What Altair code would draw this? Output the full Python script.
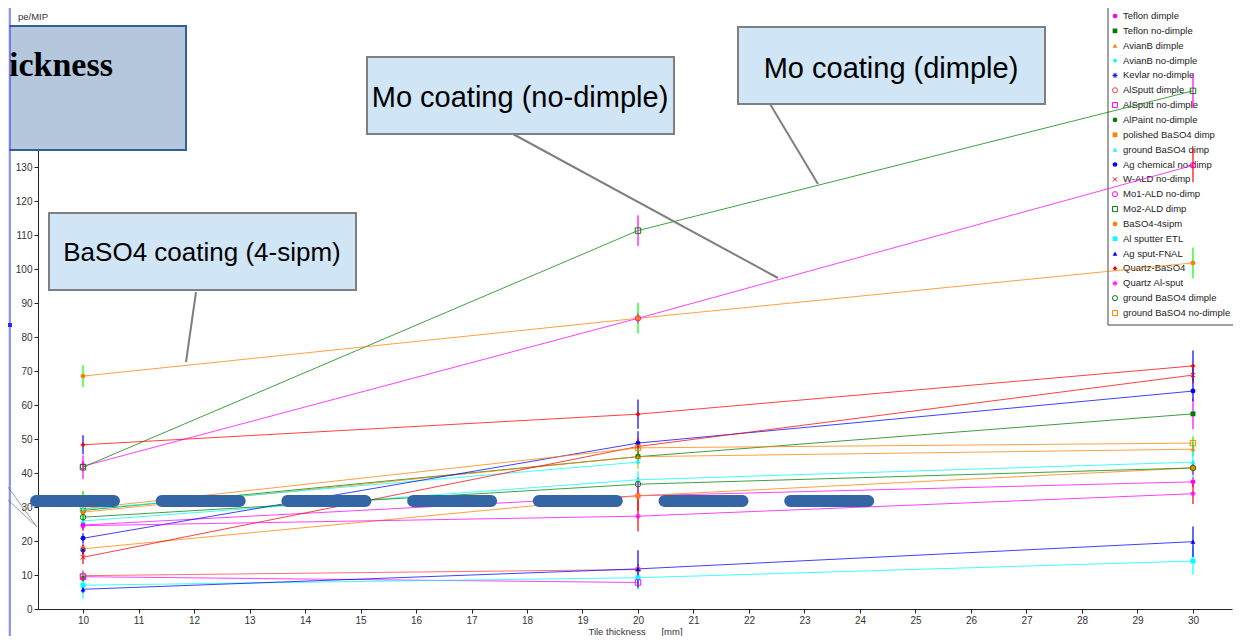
import altair as alt
import pandas as pd

# ---------------- data ----------------
x_vals = [10, 20, 30]

series_names = [
    "Teflon dimple", "Teflon no-dimple", "AvianB dimple", "AvianB no-dimple",
    "Kevlar no-dimple", "AlSputt dimple", "AlSputt no-dimple", "AlPaint no-dimple",
    "polished BaSO4 dimp", "ground BaSO4 dimp", "Ag chemical no-dimp", "W-ALD no-dimp",
    "Mo1-ALD no-dimp", "Mo2-ALD dimp", "BaSO4-4sipm", "Al sputter ETL",
    "Ag sput-FNAL", "Quartz-BaSO4", "Quartz Al-sput", "ground BaSO4 dimple",
    "ground BaSO4 no-dimple",
]

# values at tile thickness 10, 20, 30 mm (None = not measured)
teflon_dimple = [24.7, 33.3, 37.4]
teflon_nodimple = [29.0, 44.8, 57.4]
avianb_dimple = [28.5, 44.8, 47.0]
avianb_nodimple = [29.3, 43.2, None]
kevlar_nodimple = [17.3, None, None]
alsputt_dimple = [9.8, 11.6, None]
alsputt_nodimple = [9.5, 7.8, None]
alpaint_nodimple = [9.0, None, None]
polished_baso4 = [17.7, 33.3, 41.5]
ground_baso4_dimp = [25.9, 38.0, 43.2]
ag_chemical = [20.8, 48.8, 64.1]
w_ald = [15.2, 47.8, 68.8]
mo1_ald = [42.0, 85.5, 130.5]
mo2_ald = [41.7, 111.3, 152.4]
baso4_4sipm = [68.5, 85.5, 101.8]
al_sputter_etl = [7.0, 9.2, 14.1]
ag_sput_fnal = [5.8, 11.8, 19.8]
quartz_baso4 = [48.3, 57.3, 71.5]
quartz_alsput = [24.5, 27.3, 33.9]
ground_baso4_dimple = [27.0, 36.7, 41.5]
ground_baso4_nodimple = [29.5, 47.4, 48.8]

# error half-widths
err_teflon_dimple = [1.2, 1.5, 1.5]
err_teflon_nodimple = [1.5, 1.5, 4.5]
err_avianb_dimple = [1.5, 2.0, 2.0]
err_avianb_nodimple = [5.5, 2.0, None]
err_kevlar_nodimple = [1.5, None, None]
err_alsputt_dimple = [1.5, 1.5, None]
err_alsputt_nodimple = [1.5, 2.0, None]
err_alpaint_nodimple = [1.0, None, None]
err_polished_baso4 = [1.5, 4.5, 2.0]
err_ground_baso4_dimp = [1.5, 2.5, 4.5]
err_ag_chemical = [1.5, 3.5, 3.0]
err_w_ald = [2.0, 2.5, 2.5]
err_mo1_ald = [1.5, 1.5, 5.0]
err_mo2_ald = [3.5, 4.5, 5.0]
err_baso4_4sipm = [3.2, 4.5, 4.5]
err_al_sputter_etl = [4.0, 3.5, 4.0]
err_ag_sput_fnal = [1.0, 5.5, 4.5]
err_quartz_baso4 = [2.8, 4.3, 4.5]
err_quartz_alsput = [1.5, 4.5, 3.0]
err_ground_baso4_dimple = [1.5, 2.0, 2.0]
err_ground_baso4_nodimple = [5.0, 2.0, 2.0]

series_values = [
    teflon_dimple, teflon_nodimple, avianb_dimple, avianb_nodimple, kevlar_nodimple,
    alsputt_dimple, alsputt_nodimple, alpaint_nodimple, polished_baso4, ground_baso4_dimp,
    ag_chemical, w_ald, mo1_ald, mo2_ald, baso4_4sipm, al_sputter_etl, ag_sput_fnal,
    quartz_baso4, quartz_alsput, ground_baso4_dimple, ground_baso4_nodimple,
]
series_errors = [
    err_teflon_dimple, err_teflon_nodimple, err_avianb_dimple, err_avianb_nodimple,
    err_kevlar_nodimple, err_alsputt_dimple, err_alsputt_nodimple, err_alpaint_nodimple,
    err_polished_baso4, err_ground_baso4_dimp, err_ag_chemical, err_w_ald, err_mo1_ald,
    err_mo2_ald, err_baso4_4sipm, err_al_sputter_etl, err_ag_sput_fnal, err_quartz_baso4,
    err_quartz_alsput, err_ground_baso4_dimple, err_ground_baso4_nodimple,
]

ASTER = "M-1,0L1,0M0,-1L0,1M-0.7,-0.7L0.7,0.7M-0.7,0.7L0.7,-0.7"
XMARK = "M-0.8,-0.8L0.8,0.8M-0.8,0.8L0.8,-0.8"

series_colors = [
    "#ff00ff", "#007a00", "#ff8000", "#00ffff", "#0000ff", "#ff4040", "#ff00ff",
    "#007a00", "#ff8000", "#00ffff", "#0000ff", "#ff0000", "#ff00ff", "#008000",
    "#ff8000", "#00ffff", "#0000ff", "#ff0000", "#ff00ff", "#008000", "#ff8000",
]
series_shapes = [
    "circle", "square", "triangle-up", "diamond", ASTER, "circle", "square",
    "circle", "square", "triangle-up", "circle", XMARK, "circle", "square",
    "circle", "square", "triangle-up", "diamond", ASTER, "circle", "square",
]
series_filled = [
    True, True, True, True, False, False, False, True, True, True, True, False,
    False, False, True, True, True, True, False, False, False,
]
error_colors = [
    "#ff00ff", "#ff00ff", "#00ff00", "#c8c800", "#0000ff", "#ff0000", "#ffc000",
    "#008000", "#ff0000", "#00ffff", "#0000ff", "#ff0000", "#ff0000", "#ff00ff",
    "#00ff00", "#00ffff", "#0000ff", "#0000ff", "#ff0000", "#ff00ff", "#00ff00",
]

y_ticks = list(range(0, 136, 5))
x_ticks = list(range(10, 31))

# ---------------- tables ----------------
rows = []
for i, name in enumerate(series_names):
    for xv, yv, ev in zip(x_vals, series_values[i], series_errors[i]):
        if yv is None:
            continue
        rows.append({
            "series": name, "x": xv, "y": yv,
            "lo": yv - ev, "hi": yv + ev,
            "ecol": error_colors[i], "filled": series_filled[i],
        })
df = pd.DataFrame(rows)

leg = pd.DataFrame({
    "series": series_names,
    "filled": series_filled,
    "row": list(range(len(series_names))),
})
leg["ly"] = -14 + leg["row"] * 14.85
leg["sx"] = 1077
leg["tx"] = 1085

W, H = 1194, 579
XDOM = [9.189, 30.703]
YDOM = [0, 170.3]
FONT = "Liberation Sans"

color_enc = alt.Color("series:N", scale=alt.Scale(domain=series_names, range=series_colors), legend=None)
shape_enc = alt.Shape("series:N", scale=alt.Scale(domain=series_names, range=series_shapes), legend=None)

x_enc = alt.X("x:Q", scale=alt.Scale(domain=XDOM, nice=False, zero=False),
              axis=alt.Axis(values=x_ticks, format="d",
                            title="Tile thickness\u00a0\u00a0\u00a0\u00a0\u00a0\u00a0[mm]",
                            grid=False, tickSize=4, labelPadding=2, titlePadding=1,
                            labelFont=FONT, labelFontSize=10, labelColor="#333",
                            titleFont=FONT, titleFontSize=9.5, titleFontWeight="normal",
                            titleColor="#333", domainColor="#222", tickColor="#222", zindex=0,
                            labelFlush=False, labelOverlap=False))
y_enc = alt.Y("y:Q", scale=alt.Scale(domain=YDOM, nice=False),
              axis=alt.Axis(values=y_ticks, format="d", title=None, grid=False, tickSize=4, labelPadding=2,
                            labelFont=FONT, labelFontSize=10, labelColor="#333",
                            domainColor="#222", tickColor="#222", zindex=0,
                            labelFlush=False, labelOverlap=False))

one = pd.DataFrame({"a": [0]})


def box(x1, x2, y1, y2, fill, stroke, sw=2):
    return alt.Chart(one).mark_rect(fill=fill, stroke=stroke, strokeWidth=sw).encode(
        x=alt.value(x1), x2=alt.value(x2), y=alt.value(y1), y2=alt.value(y2))


def seg(x1, y1, x2, y2, color, sw=2, **kw):
    return alt.Chart(one).mark_rule(color=color, strokeWidth=sw, **kw).encode(
        x=alt.value(x1), x2=alt.value(x2), y=alt.value(y1), y2=alt.value(y2))


def label(txt, x, y, size, font=FONT, weight="normal", align="center", baseline="middle", color="#000"):
    return alt.Chart(one).mark_text(text=txt, font=font, fontSize=size, fontWeight=weight,
                                    align=align, baseline=baseline, color=color).encode(
        x=alt.value(x), y=alt.value(y))


# legend (drawn under data)
leg_box = box(1070, 1196, -25, 295, "white", "#444", 1)
leg_sym_f = alt.Chart(leg).transform_filter("datum.filled").mark_point(filled=True, size=22, opacity=1).encode(
    x=alt.X("sx:Q", scale=None, axis=None), y=alt.Y("ly:Q", scale=None, axis=None),
    color=color_enc, shape=shape_enc)
leg_sym_o = alt.Chart(leg).transform_filter("!datum.filled").mark_point(filled=False, size=26, strokeWidth=1, opacity=1).encode(
    x=alt.X("sx:Q", scale=None, axis=None), y=alt.Y("ly:Q", scale=None, axis=None),
    color=color_enc, shape=shape_enc)
leg_txt = alt.Chart(leg).mark_text(align="left", baseline="middle", font=FONT, fontSize=9.5, color="#222").encode(
    x=alt.X("tx:Q", scale=None, axis=None), y=alt.Y("ly:Q", scale=None, axis=None), text="series:N")

base = alt.Chart(df)
lines = base.mark_line(strokeWidth=1, opacity=0.75).encode(x=x_enc, y=y_enc, color=color_enc, detail="series:N", order="x:Q")
errbars = base.mark_rule(strokeWidth=1.2).encode(x="x:Q", y="lo:Q", y2="hi:Q", color=alt.Color("ecol:N", scale=None))
pts_f = base.transform_filter("datum.filled").mark_point(filled=True, size=24, opacity=1).encode(
    x="x:Q", y="y:Q", color=color_enc, shape=shape_enc)
pts_o = base.transform_filter("!datum.filled").mark_point(filled=False, size=30, strokeWidth=1, opacity=1).encode(
    x="x:Q", y="y:Q", color=color_enc, shape=shape_enc)

ymip = label("pe/MIP", -20, -10, 9.5, align="left", baseline="alphabetic", color="#333")

dashes = seg(-2, 471, 831, 471, "#3465a4", 12, strokeCap="round", strokeDash=[78, 47.7])

callouts = [
    seg(732, 74, 780, 154, "#7f7f7f", 2),
    seg(475, 104, 740, 248, "#7f7f7f", 2),
    seg(158, 262, 148, 332, "#7f7f7f", 2),
    box(700, 1007, -3, 74, "#d0e5f5", "#7f7f7f", 2),
    label("Mo coating (dimple)", 853, 39, 29),
    box(329, 636, 27, 104, "#d0e5f5", "#7f7f7f", 2),
    label("Mo coating (no-dimple)", 482, 68, 29),
    box(11, 318, 183, 260, "#d0e5f5", "#7f7f7f", 2),
    label("BaSO4 coating (4-sipm)", 164, 223, 26),
    box(-50, 148, -4, 120, "#b4c7dd", "#2f5f9f", 2),
    label("ickness", -29, 46, 34, font="Liberation Serif", weight="bold", align="left", baseline="alphabetic"),
]

frame = [
    box(-31, -28.5, -25, 614, "#dde4ea", "#dde4ea", 0),
    seg(-30, 457, -1, 497, "#9aa0a6", 1),
    seg(-30, 470, -1, 497, "#9aa0a6", 1),
    seg(-28, -25, -28, 614, "#2b2bff", 1),
    box(-30, -26, 293, 297, "#2b2bff", "#2b2bff", 0),
]

chart = alt.layer(
    leg_box, leg_sym_f, leg_sym_o, leg_txt, lines, errbars, pts_f, pts_o, ymip, dashes,
    *callouts, *frame,
).properties(
    width=W, height=H,
    autosize=alt.AutoSizeParams(type="none"),
    padding={"left": 30, "top": 22, "right": 1, "bottom": 27},
).configure_view(stroke=None)

chart.save("out.html", embed_options={"renderer": "svg", "actions": False})
